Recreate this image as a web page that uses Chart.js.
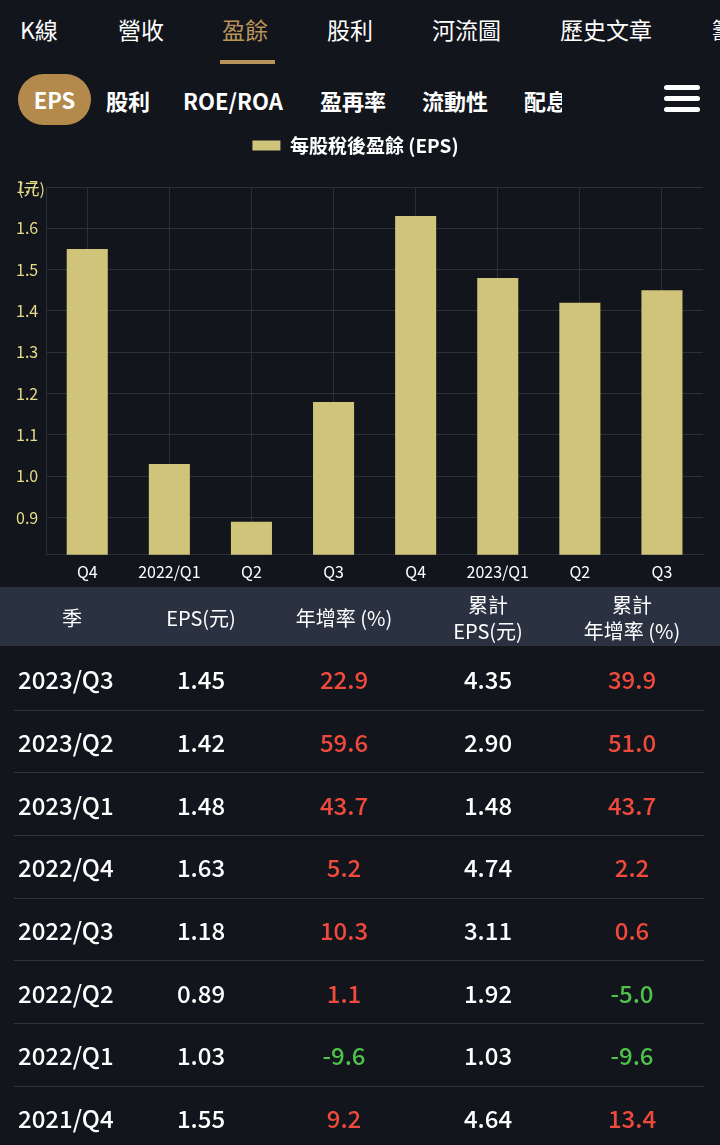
<!DOCTYPE html>
<html>
<head>
<meta charset="utf-8">
<script src="https://cdn.jsdelivr.net/npm/chart.js@4.4.0/dist/chart.umd.min.js"></script>
<style>
body{margin:0;background:#12151c;color:#fff;font-family:"Noto Sans CJK TC","Noto Sans",sans-serif;width:720px;height:1145px;overflow:hidden;position:relative}
.tabs{position:absolute;top:12px;left:0;width:760px;font-size:23px;white-space:nowrap}
.tabs span{position:absolute}
.ul{position:absolute;left:220px;top:60px;width:55px;height:4px;background:#b8945a}
.sub{position:absolute;top:74px;left:0;font-size:22px;font-weight:bold;white-space:nowrap}
.sub span{position:absolute;top:10px}
.pill{position:absolute;left:18px;top:74px;width:73px;height:51px;border-radius:26px;background:#b48a4c;color:#fff;font-size:22px;font-weight:bold;text-align:center;line-height:51px}
.menu{position:absolute;left:664px;top:85px}
.menu div{width:36px;height:5px;background:#fff;border-radius:3px;margin-bottom:6px}
#wrap{position:absolute;left:0;top:122px;width:720px;height:468px}
.head{position:absolute;top:587px;left:0;width:720px;height:59px;background:#2a3242}
table{position:absolute;top:587px;left:14px;width:690px;border-collapse:collapse;font-size:24px;font-weight:500;table-layout:fixed}
th{font-weight:normal;font-size:20px;height:59px;line-height:26px;color:#fff}
td{height:61.7px;padding:0;text-align:center;border-bottom:1px solid #2e333c}
.r{color:#f04a3c}.g{color:#4ec24a}
</style>
</head>
<body>
<div class="tabs">
<span style="left:20px">K線</span><span style="left:118px">營收</span><span style="left:222px;color:#b8945a">盈餘</span><span style="left:327px">股利</span><span style="left:432px">河流圖</span><span style="left:560px">歷史文章</span><span style="left:712px">籌</span>
</div>
<div class="ul"></div>
<div class="pill">EPS</div>
<div class="sub"><span style="left:106px">股利</span><span style="left:183px">ROE/ROA</span><span style="left:320px">盈再率</span><span style="left:422px">流動性</span><span style="left:524px;width:38px;overflow:hidden">配息</span></div>
<div class="menu"><div></div><div></div><div></div></div>
<div id="wrap"><canvas id="myChart"></canvas></div>
<div class="head"></div>
<table>
<colgroup><col style="width:116px"><col style="width:142px"><col style="width:144px"><col style="width:144px"><col style="width:144px"></colgroup>
<tr><th>季</th><th>EPS(元)</th><th>年增率 (%)</th><th>累計<br>EPS(元)</th><th>累計<br>年增率 (%)</th></tr>
<tbody id="tb"></tbody>
</table>
<script>
const labels = ['Q4', '2022/Q1', 'Q2', 'Q3', 'Q4', '2023/Q1', 'Q2', 'Q3'];
const eps = [1.55, 1.03, 0.89, 1.18, 1.63, 1.48, 1.42, 1.45];

const rowSeason = ['2023/Q3', '2023/Q2', '2023/Q1', '2022/Q4', '2022/Q3', '2022/Q2', '2022/Q1', '2021/Q4'];
const rowEps = ['1.45', '1.42', '1.48', '1.63', '1.18', '0.89', '1.03', '1.55'];
const rowYoy = ['22.9', '59.6', '43.7', '5.2', '10.3', '1.1', '-9.6', '9.2'];
const rowCumEps = ['4.35', '2.90', '1.48', '4.74', '3.11', '1.92', '1.03', '4.64'];
const rowCumYoy = ['39.9', '51.0', '43.7', '2.2', '0.6', '-5.0', '-9.6', '13.4'];

const tb = document.getElementById('tb');
rowSeason.forEach((s, i) => {
	const cls = v => v.startsWith('-') ? 'g' : 'r';
	tb.innerHTML += '<tr><td style="text-align:left;padding-left:4px">' + s + '</td><td>' + rowEps[i] + '</td><td class="' + cls(rowYoy[i]) + '">' + rowYoy[i] +
		'</td><td>' + rowCumEps[i] + '</td><td class="' + cls(rowCumYoy[i]) + '">' + rowCumYoy[i] + '</td></tr>';
});

// unit label and extra room below the legend
const unitPlugin = {
	id: 'unit',
	beforeInit: (chart) => {
		const fit = chart.legend.fit;
		chart.legend.fit = function() {
			fit.bind(chart.legend)();
			this.height += 22;
		};
	},
	afterDraw: (chart) => {
		const ctx = chart.ctx;
		ctx.save();
		ctx.fillStyle = '#e8dc8a';
		ctx.font = '16px "Noto Sans CJK TC"';
		ctx.textAlign = 'left';
		ctx.fillText('(元)', 18, 67);
		ctx.restore();
	}
};

const font = { family: '"Noto Sans CJK TC", "Noto Sans", sans-serif', size: 16 };

new Chart(document.getElementById('myChart'), {
	type: 'bar',
	data: {
		labels: labels,
		datasets: [{
			label: '每股稅後盈餘 (EPS)',
			data: eps,
			backgroundColor: '#cfc47a',
			barPercentage: 0.5,
			categoryPercentage: 1
		}]
	},
	plugins: [unitPlugin],
	options: {
		responsive: true,
		maintainAspectRatio: false,
		animation: false,
		layout: { padding: { left: 8, right: 17, top: 0, bottom: 0 } },
		scales: {
			x: {
				grid: { color: '#2a2f38', offset: false, drawTicks: false },
				border: { color: '#2a2f38' },
				ticks: { color: '#fff', font: font, padding: 8, maxRotation: 0, autoSkip: false }
			},
			y: {
				min: 0.81,
				max: 1.7,
				afterBuildTicks: (axis) => {
					axis.ticks = [0.9, 1.0, 1.1, 1.2, 1.3, 1.4, 1.5, 1.6, 1.7].map(v => ({ value: v }));
				},
				grid: { color: '#2a2f38', drawTicks: false },
				border: { color: '#2a2f38' },
				ticks: { color: '#e8dc8a', font: font, padding: 8, callback: v => v.toFixed(1) }
			}
		},
		plugins: {
			legend: {
				labels: { color: '#fff', font: { family: font.family, size: 19, weight: 'bold' }, boxWidth: 28, boxHeight: 10, padding: 14 }
			},
			tooltip: { enabled: false }
		}
	}
});
</script>
</body>
</html>
